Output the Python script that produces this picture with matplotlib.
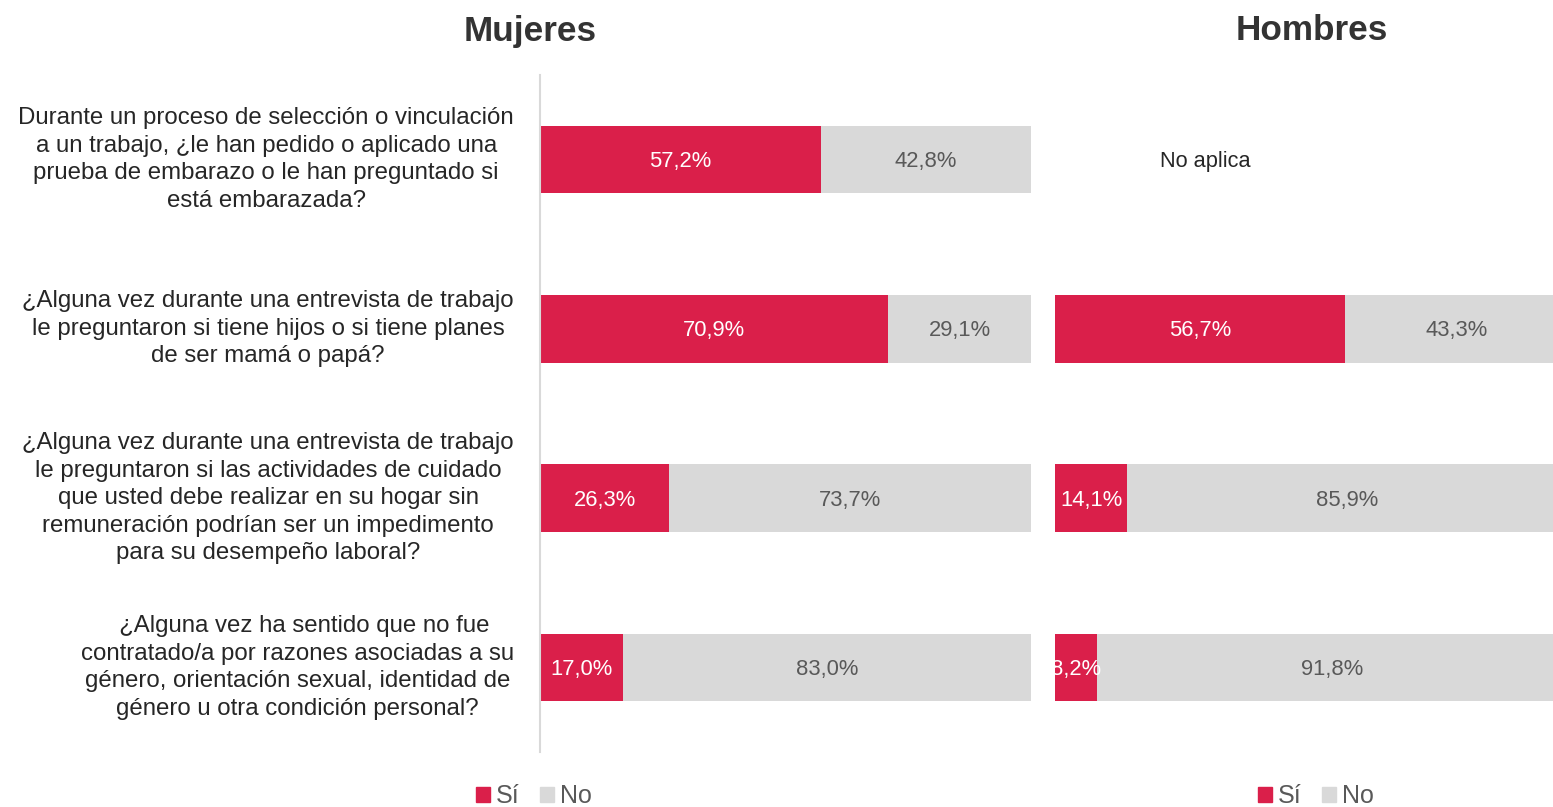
import matplotlib.pyplot as plt
import numpy as np
from matplotlib.patches import Patch

plt.rcParams['font.family'] = ['Liberation Sans', 'DejaVu Sans']

preguntas = [
    "Durante un proceso de selección o vinculación\na un trabajo, ¿le han pedido o aplicado una\nprueba de embarazo o le han preguntado si\nestá embarazada?",
    "¿Alguna vez durante una entrevista de trabajo\nle preguntaron si tiene hijos o si tiene planes\nde ser mamá o papá?",
    "¿Alguna vez durante una entrevista de trabajo\nle preguntaron si las actividades de cuidado\nque usted debe realizar en su hogar sin\nremuneración podrían ser un impedimento\npara su desempeño laboral?",
    "  ¿Alguna vez ha sentido que no fue\ncontratado/a por razones asociadas a su\ngénero, orientación sexual, identidad de\ngénero u otra condición personal?",
]
mujeres_si = [57.2, 70.9, 26.3, 17.0]
mujeres_no = [42.8, 29.1, 73.7, 83.0]
hombres_si = [np.nan, 56.7, 14.1, 8.2]
hombres_no = [np.nan, 43.3, 85.9, 91.8]

ROJO = '#DA1F4A'
GRIS = '#D9D9D9'
TXT_GRIS = '#595959'

fig = plt.figure(figsize=(15.53, 8.07), dpi=100)
W, H = 1553, 807
ax1 = fig.add_axes([540 / W, 1 - 752 / H, 491 / W, 677 / H])
ax2 = fig.add_axes([1055 / W, 1 - 752 / H, 512 / W, 677 / H])

y = np.arange(len(preguntas))


def dibujar(ax, si, no):
    si = np.array(si) / 100
    no = np.array(no) / 100
    ok = ~np.isnan(si)
    ax.barh(y[ok], si[ok], height=0.4, color=ROJO)
    ax.barh(y[ok], no[ok], left=si[ok], height=0.4, color=GRIS)
    for i in y[ok]:
        ax.text(si[i] / 2, i + 0.012, f"{si[i] * 100:.1f}%".replace('.', ','),
                ha='center', va='center', color='white', fontsize=15.8, clip_on=True)
        ax.text(si[i] + no[i] / 2, i + 0.012, f"{no[i] * 100:.1f}%".replace('.', ','),
                ha='center', va='center', color=TXT_GRIS, fontsize=15.8)
    ax.set_xlim(0, 1)
    ax.set_ylim(len(preguntas) - 0.5, -0.5)
    ax.set_xticks([])
    ax.set_yticks([])
    for s in ['top', 'right', 'bottom', 'left']:
        ax.spines[s].set_visible(False)


dibujar(ax1, mujeres_si, mujeres_no)
dibujar(ax2, hombres_si, hombres_no)
ax1.spines['left'].set_visible(True)
ax1.spines['left'].set_color(GRIS)
ax1.spines['left'].set_linewidth(1.5)

ax2.text(0.293, 0.012, "No aplica", ha='center', va='center', fontsize=15.7, color='#262626')

for i, q in enumerate(preguntas):
    ax1.text(-0.053, i, q, ha='right', va='center', multialignment='center',
             fontsize=17.3, color='#262626', linespacing=1.32)

fig.text(530 / W, 1 - 31 / H, "Mujeres", ha='center', va='center',
         fontsize=25.3, fontweight='bold', color='#333333')
fig.text(1312 / W, 1 - 31 / H, "Hombres", ha='center', va='center',
         fontsize=25.3, fontweight='bold', color='#333333')

handles = [Patch(color=ROJO, label='Sí'), Patch(color=GRIS, label='No')]
for cx in [534, 1316]:
    fig.legend(handles=handles, loc='center', bbox_to_anchor=(cx / W, 1 - 796 / H),
               ncol=2, frameon=False, fontsize=18, labelcolor=TXT_GRIS,
               handlelength=0.55, handleheight=0.55, handletextpad=0.25, columnspacing=0.8)

fig.savefig('out.png', dpi=100)
